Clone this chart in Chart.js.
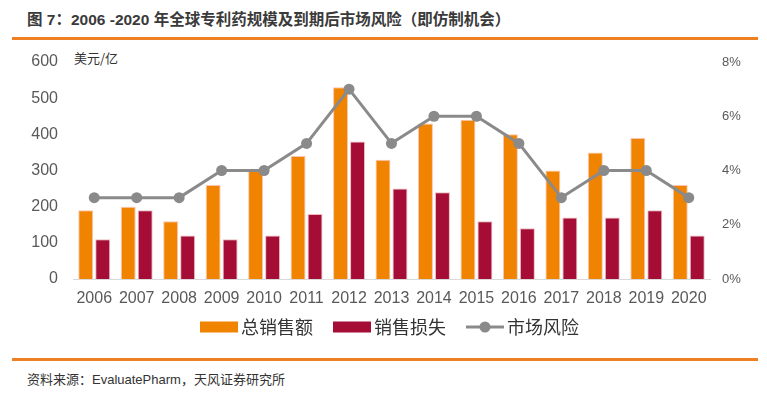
<!DOCTYPE html>
<html>
<head>
<meta charset="utf-8">
<script src="https://cdn.jsdelivr.net/npm/chart.js@4/dist/chart.umd.min.js"></script>
<style>
  body { margin: 0; background: #fff; width: 767px; height: 393px; overflow: hidden; position: relative; font-family: "Liberation Sans", "Noto Sans CJK SC", sans-serif; }
  #title { position: absolute; left: 27px; top: 7px; font-size: 15.5px; font-weight: bold; color: #3a3a3a; font-family: "Liberation Sans", "Noto Sans CJK SC", sans-serif; white-space: nowrap; }
  .rule { position: absolute; left: 12px; width: 746px; height: 3px; background: #EE7F22; }
  #unit { position: absolute; left: 74px; top: 48px; font-size: 13px; color: #333; font-family: "Noto Sans CJK SC", sans-serif; }
  #source { position: absolute; left: 27px; top: 369px; font-size: 13px; color: #333; font-family: "Liberation Sans", "Noto Sans CJK SC", sans-serif; white-space: nowrap; }
  #wrap { position: absolute; left: 0; top: 40px; width: 767px; height: 306px; }
</style>
</head>
<body>
<div id="title">图 7：2006 -2020 年全球专利药规模及到期后市场风险（即仿制机会）</div>
<div class="rule" style="top:37px"></div>
<div id="unit">美元/亿</div>
<div id="wrap"><canvas id="chart"></canvas></div>
<div class="rule" style="top:358px"></div>
<div id="source">资料来源：EvaluatePharm，天风证券研究所</div>
<script>
// 数据
const years = ["2006", "2007", "2008", "2009", "2010", "2011", "2012", "2013", "2014", "2015", "2016", "2017", "2018", "2019", "2020"];
const totalSales = [190, 200, 160, 260, 300, 340, 530, 330, 430, 440, 400, 300, 350, 390, 260];
const salesLoss = [110, 190, 120, 110, 120, 180, 380, 250, 240, 160, 140, 170, 170, 190, 120];
const marketRisk = [3, 3, 3, 4, 4, 5, 7, 5, 6, 6, 5, 3, 4, 4, 3];
const leftTicks = [0, 100, 200, 300, 400, 500, 600];
const rightTicks = [0, 2, 4, 6, 8];

const ORANGE = "#F08300";
const CRIMSON = "#A50D36";
const GREY = "#8A8A8A";

// 图例图标：图形画在画布右侧，左侧留空
const BOX_W = 43;
function makeIcon(type, color) {
  let c = document.createElement("canvas");
  c.width = BOX_W + 12;
  c.height = 12;
  let g = c.getContext("2d");
  let x0 = c.width - 38;
  if (type === "rect") {
    g.fillStyle = color;
    g.fillRect(x0, 0.5, 38, 11);
  } else {
    g.strokeStyle = color;
    g.lineWidth = 3;
    g.beginPath();
    g.moveTo(x0, 6);
    g.lineTo(x0 + 38, 6);
    g.stroke();
    g.fillStyle = color;
    g.beginPath();
    g.arc(x0 + 19, 6, 5.5, 0, Math.PI * 2);
    g.fill();
  }
  return c;
}
const icons = [makeIcon("rect", ORANGE), makeIcon("rect", CRIMSON), makeIcon("line", GREY)];

const tickFont = { family: "'Liberation Sans', sans-serif", size: 16 };

new Chart(document.getElementById("chart").getContext("2d"), {
  type: "bar",
  data: {
    labels: years,
    datasets: [
      {
        label: "总销售额",
        data: totalSales,
        backgroundColor: ORANGE,
        borderColor: "rgba(250,190,170,0.9)",
        borderWidth: 1,
        categoryPercentage: 0.8,
        barPercentage: 0.88,
        yAxisID: "y",
        order: 1,
      },
      {
        label: "销售损失",
        data: salesLoss,
        backgroundColor: CRIMSON,
        borderColor: "rgba(230,170,170,0.8)",
        borderWidth: 1,
        categoryPercentage: 0.8,
        barPercentage: 0.88,
        yAxisID: "y",
        order: 1,
      },
      {
        type: "line",
        label: "市场风险",
        data: marketRisk,
        borderColor: GREY,
        backgroundColor: GREY,
        borderWidth: 3,
        pointRadius: 5.5,
        pointBackgroundColor: GREY,
        pointBorderWidth: 0,
        yAxisID: "y1",
        order: 0,
      },
    ],
  },
  options: {
    responsive: true,
    maintainAspectRatio: false,
    animation: false,
    layout: { padding: { top: 22, left: 1, right: 0, bottom: 0 } },
    plugins: {
      tooltip: { enabled: false },
      legend: {
        position: "bottom",
        labels: {
          usePointStyle: true,
          pointStyleWidth: BOX_W,
          padding: 9,
          color: "#333",
          font: { family: "'Noto Sans CJK SC', sans-serif", size: 18 },
          generateLabels: function (chart) {
            return chart.data.datasets.map((ds, i) => ({
              text: ds.label,
              fillStyle: ds.backgroundColor,
              strokeStyle: ds.borderColor,
              lineWidth: 0,
              pointStyle: icons[i],
              hidden: false,
              datasetIndex: i,
              fontColor: "#333",
            }));
          },
        },
      },
    },
    scales: {
      x: {
        grid: { display: false },
        border: { display: true, color: "#d9d9d9", width: 1 },
        ticks: { color: "#595959", font: tickFont, padding: 2, maxRotation: 0, autoSkip: false },
        afterFit: function (s) { s.height = 30; },
      },
      y: {
        position: "left",
        min: 0,
        max: 600,
        afterBuildTicks: function (s) { s.ticks = leftTicks.map((v) => ({ value: v })); },
        grid: { display: false },
        border: { display: false },
        ticks: { color: "#595959", font: tickFont, padding: 7 },
        afterFit: function (s) { s.width = 72; },
      },
      y1: {
        position: "right",
        min: 0,
        max: 8,
        afterBuildTicks: function (s) { s.ticks = rightTicks.map((v) => ({ value: v })); },
        grid: { display: false },
        border: { display: false },
        ticks: {
          color: "#595959",
          font: { family: "'Liberation Sans', sans-serif", size: 13 },
          padding: 4,
          callback: function (v) { return v + "%"; },
        },
        afterFit: function (s) { s.width = 57; },
      },
    },
  },
});
</script>
</body>
</html>
